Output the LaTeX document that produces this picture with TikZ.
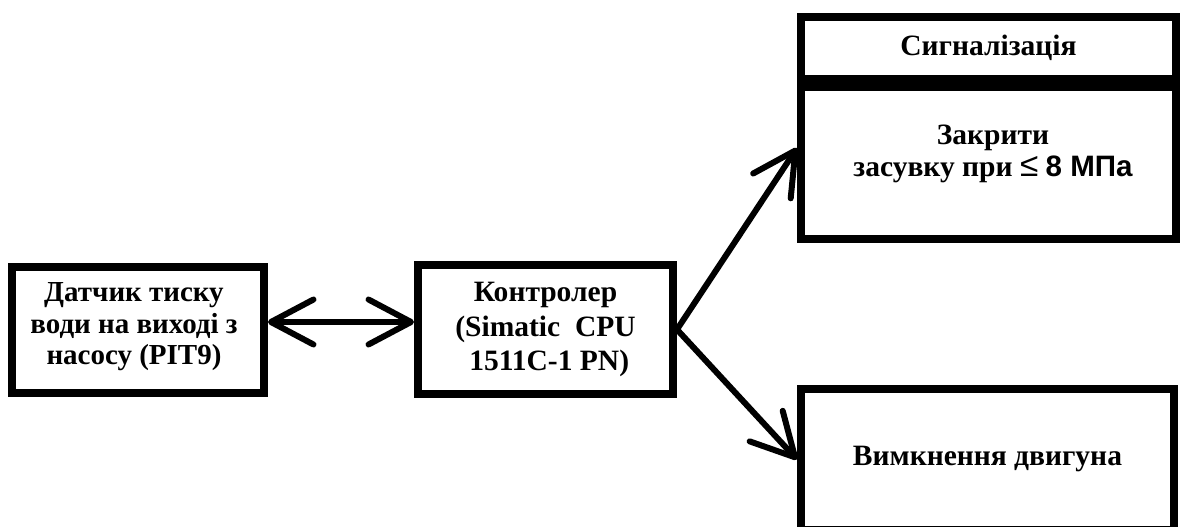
\documentclass[tikz,border=0pt]{standalone}
\usepackage{fontspec}
\setmainfont{Liberation Serif}
\setsansfont{Liberation Sans}
\usetikzlibrary{arrows.meta, positioning}
\tikzset{
box/.style={draw, line width=0.16cm, inner sep=0pt, align=center, font=\fontsize{16.8pt}{18pt}\selectfont\bfseries}, % black frames
txt/.style={align=center, inner sep=0pt, font=\fontsize{16.8pt}{18pt}\selectfont\bfseries}, % free labels
link/.style={line width=0.12cm, line cap=round}, % thick connectors
>={Straight Barb[length=0.85cm, width=0.9cm, line cap=round, line join=round]},
}
\begin{document}
\begin{tikzpicture}[x=0.02cm, y=-0.02cm]
\useasboundingbox (0,0) rectangle (1181,527);

% boxes
\node[box, minimum width=5.04cm, minimum height=2.52cm] (sensor) at (138,330) {};
\node[txt, font=\fontsize{16.5pt}{18pt}\selectfont\bfseries] (sensortxt) at (134,327) {Датчик тиску\\води на виході з\\насосу (PIT9)};
\node[box, minimum width=5.1cm, minimum height=2.58cm, font=\fontsize{16.8pt}{19.5pt}\selectfont\bfseries] (ctrl) at (545.5,329.5) {Контролер\\(Simatic\ \ CPU\\~1511C-1 PN)};
\node[box, minimum width=7.5cm, minimum height=1.24cm] (signal) at (988.5,48) {Сигналізація};
\node[box, below=0pt of signal, minimum width=7.5cm, minimum height=3.04cm] (zakr) {};
\node[txt] (zakrtxt) at (993,154) {Закрити\\засувку при {\sffamily\mdseries\fontsize{19pt}{18pt}\selectfont ≤} {\sffamily 8 МПа}};
\node[box, minimum width=7.46cm, minimum height=2.82cm] (vymk) at (987.5,459.5) {Вимкнення двигуна};

% connectors
\draw[link, <->] ([yshift=0.16cm]sensor.east) -- ([yshift=0.16cm]sensor.east -| ctrl.west);
\draw[link, ->] (ctrl.east) -- ([yshift=0.3cm]zakr.west);
\draw[link, ->] (ctrl.east) -- (vymk.west);
\end{tikzpicture}
\end{document}
